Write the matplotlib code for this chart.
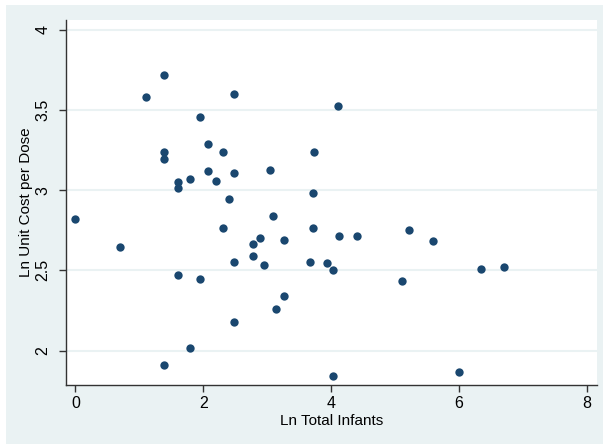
import matplotlib
matplotlib.use("Agg")
import matplotlib.pyplot as plt
from matplotlib.patches import Rectangle

plt.rcParams['font.family'] = ['Liberation Sans', 'DejaVu Sans']

# Ln total infants vs ln unit cost per dose
ln_infants = [0.0, 0.693, 1.099, 1.386, 1.386, 1.386, 1.386, 1.609, 1.609, 1.609,
              1.792, 1.792, 1.946, 1.946, 2.079, 2.079, 2.197, 2.303, 2.303, 2.398,
              2.485, 2.485, 2.485, 2.485, 2.773, 2.773, 2.890, 2.944, 3.045, 3.091,
              3.135, 3.258, 3.258, 3.664, 3.714, 3.714, 3.738, 3.932, 4.025, 4.038,
              4.111, 4.127, 4.407, 5.113, 5.226, 5.598, 6.005, 6.344, 6.698]
ln_cost = [2.821, 2.646, 3.584, 3.719, 3.239, 3.193, 1.908, 3.054, 3.012, 2.472,
           3.073, 2.018, 3.455, 2.447, 3.291, 3.122, 3.058, 3.239, 2.762, 2.944,
           3.599, 3.108, 2.553, 2.180, 2.667, 2.588, 2.704, 2.534, 3.127, 2.842,
           2.261, 2.688, 2.339, 2.553, 2.985, 2.767, 3.237, 2.549, 2.503, 1.842,
           3.526, 2.717, 2.717, 2.436, 2.752, 2.686, 1.865, 2.509, 2.520]

xticks = [0, 2, 4, 6, 8]
yticks = [2, 2.5, 3, 3.5, 4]
ytick_labels = ['2', '2.5', '3', '3.5', '4']

bg = '#EAF2F3'
navy = '#1A476F'

fig = plt.figure(figsize=(6.03, 4.44), dpi=100)
fig.patch.set_facecolor('white')
fig.patches.append(Rectangle((6 / 603, 0), 1, 1 - 5 / 444, transform=fig.transFigure,
                             facecolor=bg, edgecolor='none', zorder=-10))

ax = fig.add_axes([66 / 603, 1 - 385 / 444, (597 - 66) / 603, (385 - 20) / 444])
ax.set_zorder(1)
ax.set_facecolor('white')
ax.scatter(ln_infants, ln_cost, s=36, color=navy, linewidths=0, zorder=3)

ax.set_xlim(-0.146, 8.16)
ax.set_ylim(1.785, 4.062)
ax.set_xticks(xticks)
ax.set_yticks(yticks)
ax.set_yticklabels(ytick_labels, rotation=90, va='center')
ax.yaxis.grid(True, color=bg, linewidth=1.5)
ax.set_axisbelow(True)

for s in ['top', 'right']:
    ax.spines[s].set_visible(False)
for s in ['left', 'bottom']:
    ax.spines[s].set_color('#333333')
    ax.spines[s].set_linewidth(1)
ax.tick_params(axis='both', length=5, width=1, color='#333333', labelsize=11.5, labelcolor='black')
ax.tick_params(axis='x', pad=3)
ax.tick_params(axis='y', pad=6)

ax.set_xlabel('Ln Total Infants', fontsize=11, labelpad=2)
ax.set_ylabel('Ln Unit Cost per Dose', fontsize=11, labelpad=2)

fig.savefig('out.png', dpi=100)
